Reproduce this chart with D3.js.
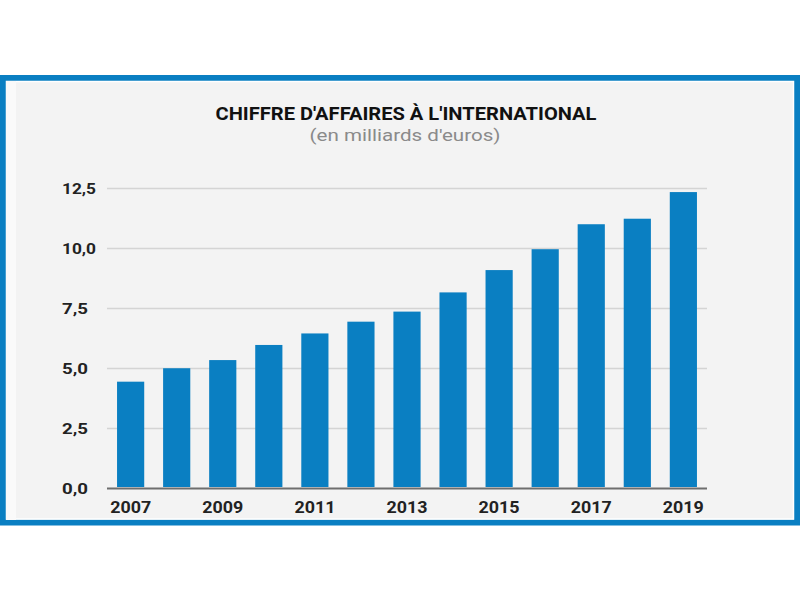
<!DOCTYPE html>
<html>
<head>
<meta charset="utf-8">
<script src="https://cdn.jsdelivr.net/npm/d3@7"></script>
<style>
  html, body { margin: 0; padding: 0; background: #ffffff; }
  svg { display: block; }
  text { font-family: Roboto, "Liberation Sans", Arial, sans-serif; }
</style>
</head>
<body>
<svg id="chart" width="800" height="600"></svg>
<script>
// ---- Data ----
const years = ["2007","2008","2009","2010","2011","2012","2013","2014","2015","2016","2017","2018","2019"];
const values = [4.43, 4.99, 5.33, 5.96, 6.44, 6.93, 7.35, 8.15, 9.08, 9.95, 10.99, 11.22, 12.33];
const yTicks = [0, 2.5, 5, 7.5, 10, 12.5];
const xTickLabels = ["2007","2009","2011","2013","2015","2017","2019"];
const title = "CHIFFRE D'AFFAIRES À L'INTERNATIONAL";
const subtitle = "(en milliards d'euros)";

const svg = d3.select("#chart");
const blue = "#0a7fc2";

// Frame
svg.append("rect").attr("x", 3).attr("y", 78).attr("width", 794).attr("height", 444.5)
  .attr("fill", "#f3f3f3").attr("stroke", blue).attr("stroke-width", 6);
svg.append("rect").attr("x", 6.5).attr("y", 81.5).attr("width", 787).attr("height", 437.5)
  .attr("fill", "none").attr("stroke", "#ffffff").attr("stroke-width", 1.5);
svg.append("rect").attr("x", 6).attr("y", 81).attr("width", 10).attr("height", 439)
  .attr("fill", "#fafafa");

// Scales
const x = d3.scaleBand().domain(years).range([107, 707]).paddingInner(0.41).paddingOuter(0.218);
const y = d3.scaleLinear().domain([0, 12.5]).range([488, 188]);

// Gridlines
const grid = svg.append("g")
  .attr("transform", "translate(107,0)")
  .call(d3.axisLeft(y).tickValues(yTicks).tickSize(-600).tickFormat(""));
grid.select(".domain").remove();
grid.selectAll(".tick line").attr("stroke", d => d === 0 ? "#6e6e6e" : "#d4d4d4").attr("stroke-width", d => d === 0 ? 2 : 1.5);

// Y labels
const fmt = d => d3.format(".1f")(d).replace(".", ",");
svg.append("g").selectAll("text").data(yTicks).join("text")
  .attr("x", 62).attr("y", d => y(d)).attr("dy", "0.36em")
  .attr("font-size", 15.5).attr("font-weight", 700).attr("fill", "#222")
  .attr("textLength", d => d >= 10 ? 34 : 26).attr("lengthAdjust", "spacingAndGlyphs")
  .text(fmt);

// Bars
svg.append("g").selectAll("rect").data(values).join("rect")
  .attr("x", (d, i) => x(years[i]))
  .attr("width", x.bandwidth())
  .attr("y", d => y(d))
  .attr("height", d => y(0) - y(d) - 1)
  .attr("fill", blue);

// X axis labels
const xAxis = svg.append("g").attr("transform", "translate(0,488)")
  .call(d3.axisBottom(x).tickValues(xTickLabels).tickSize(0).tickPadding(0));
xAxis.select(".domain").remove();
xAxis.selectAll(".tick text")
  .attr("y", 25).attr("dy", 0)
  .attr("font-size", 16).attr("font-weight", 700).attr("fill", "#222")
  .attr("font-family", "Roboto, 'Liberation Sans', Arial, sans-serif")
  .attr("textLength", 41).attr("lengthAdjust", "spacingAndGlyphs");

// Titles
svg.append("text").attr("x", 406).attr("y", 119.5).attr("text-anchor", "middle")
  .attr("font-size", 17.5).attr("font-weight", 700).attr("fill", "#111")
  .attr("textLength", 381).attr("lengthAdjust", "spacingAndGlyphs")
  .text(title);
svg.append("text").attr("x", 405).attr("y", 141).attr("text-anchor", "middle")
  .attr("font-size", 16.5).attr("fill", "#8a8a8a")
  .attr("textLength", 191).attr("lengthAdjust", "spacingAndGlyphs")
  .text(subtitle);
</script>
</body>
</html>
